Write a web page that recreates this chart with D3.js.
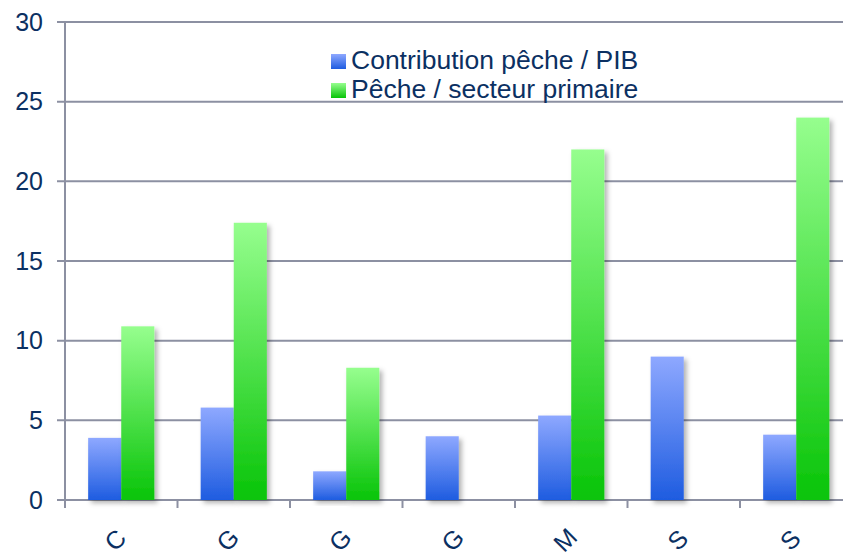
<!DOCTYPE html>
<html>
<head>
<meta charset="utf-8">
<script src="https://cdn.jsdelivr.net/npm/d3@7"></script>
<style>
  body { margin: 0; background: #fff; }
  svg { display: block; font-family: "Liberation Sans", Arial, sans-serif; }
</style>
</head>
<body>
<div id="chart"></div>
<script>
// data
const categories = ['C', 'G', 'G', 'G', 'M', 'S', 'S'];
const seriesNames = ['Contribution pêche / PIB', 'Pêche / secteur primaire'];
const pibValues = [3.9, 5.8, 1.8, 4.0, 5.3, 9.0, 4.1];
const primaireValues = [10.9, 17.4, 8.3, 0, 22.0, 0, 24.0];
const yTicks = [0, 5, 10, 15, 20, 25, 30];

const width = 843;
const height = 555;
const margin = { top: 22, left: 65, bottom: 55 };
const bandStep = 112.5;

const textColor = '#0b3062';
const gridColor = '#8c90a2';

const svg = d3.select('#chart')
  .append('svg')
  .attr('width', width)
  .attr('height', height);

const defs = svg.append('defs');

// gradients, light at top, saturated at bottom
const gradients = [
  { id: 'grad-blue', top: '#8ea8ff', bottom: '#1e5ce0' },
  { id: 'grad-green', top: '#96fe8e', bottom: '#08c408' }
];
gradients.forEach(g => {
  const lg = defs.append('linearGradient')
    .attr('id', g.id)
    .attr('x1', 0).attr('y1', 0)
    .attr('x2', 0).attr('y2', 1);
  lg.append('stop').attr('offset', '0%').attr('stop-color', g.top);
  lg.append('stop').attr('offset', '100%').attr('stop-color', g.bottom);
});

const shadow = defs.append('filter')
  .attr('id', 'shadow')
  .attr('x', '-20%').attr('y', '-10%')
  .attr('width', '150%').attr('height', '130%');
shadow.append('feDropShadow')
  .attr('dx', 3).attr('dy', 3)
  .attr('stdDeviation', 2.5)
  .attr('flood-color', '#000')
  .attr('flood-opacity', 0.3);

const x0 = d3.scaleBand()
  .domain(d3.range(categories.length))
  .range([margin.left, margin.left + bandStep * categories.length])
  .padding(0);

const x1 = d3.scaleBand()
  .domain([0, 1])
  .range([0, x0.bandwidth()])
  .paddingInner(0)
  .paddingOuter(0.7);

const y = d3.scaleLinear()
  .domain([0, 30])
  .range([height - margin.bottom, margin.top]);

// gridlines
svg.append('g')
  .attr('class', 'grid')
  .selectAll('line')
  .data(yTicks)
  .join('line')
  .attr('x1', margin.left - 8)
  .attr('x2', width)
  .attr('y1', d => y(d))
  .attr('y2', d => y(d))
  .attr('stroke', gridColor)
  .attr('stroke-width', 2);

// y axis line
svg.append('line')
  .attr('x1', margin.left).attr('x2', margin.left)
  .attr('y1', y(30)).attr('y2', y(0) + 8)
  .attr('stroke', gridColor)
  .attr('stroke-width', 2);

// x ticks at band boundaries
svg.append('g')
  .selectAll('line')
  .data(d3.range(categories.length))
  .join('line')
  .attr('x1', d => x0(d))
  .attr('x2', d => x0(d))
  .attr('y1', y(0))
  .attr('y2', y(0) + 8)
  .attr('stroke', gridColor)
  .attr('stroke-width', 2);

// y labels
svg.append('g')
  .selectAll('text')
  .data(yTicks)
  .join('text')
  .attr('x', 43)
  .attr('y', d => y(d))
  .attr('dy', '0.35em')
  .attr('text-anchor', 'end')
  .attr('fill', textColor)
  .style('font-size', '25px')
  .text(d => d);

// bars
const rows = categories.map((c, i) => ({ i, values: [pibValues[i], primaireValues[i]] }));

const groups = svg.append('g')
  .attr('class', 'bars')
  .selectAll('g')
  .data(rows)
  .join('g')
  .attr('transform', d => `translate(${x0(d.i)},0)`);

groups.selectAll('rect')
  .data(d => d.values.map((v, s) => ({ v, s })).filter(d => d.v > 0))
  .join('rect')
  .attr('x', d => x1(d.s))
  .attr('width', x1.bandwidth())
  .attr('y', d => y(d.v))
  .attr('height', d => y(0) - y(d.v))
  .attr('fill', d => `url(#${gradients[d.s].id})`)
  .attr('filter', 'url(#shadow)');

// category labels, rotated
svg.append('g')
  .selectAll('text')
  .data(categories)
  .join('text')
  .attr('transform', (d, i) =>
    `translate(${x0(i) + x0.bandwidth() / 2 - 6}, ${y(0) + 40}) rotate(-45)`)
  .attr('text-anchor', 'middle')
  .attr('dy', '0.35em')
  .attr('fill', textColor)
  .style('font-size', '25px')
  .text(d => d);

// legend
const legend = svg.append('g')
  .attr('transform', 'translate(331, 54)');

const legendItems = legend.selectAll('g')
  .data(seriesNames)
  .join('g')
  .attr('transform', (d, i) => `translate(0, ${i * 29})`);

legendItems.append('rect')
  .attr('width', 15)
  .attr('height', 15)
  .attr('fill', (d, i) => `url(#${gradients[i].id})`);

legendItems.append('text')
  .attr('x', 20)
  .attr('y', 15)
  .attr('fill', textColor)
  .style('font-size', '26.5px')
  .text(d => d);
</script>
</body>
</html>
